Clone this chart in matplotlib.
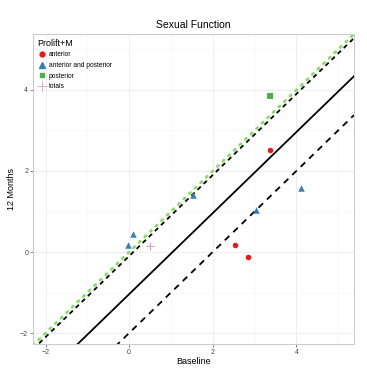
import numpy as np
import matplotlib
matplotlib.use("Agg")
import matplotlib.pyplot as plt
from matplotlib.lines import Line2D

# data
anterior_x = [3.37, 2.54, 2.85]
anterior_y = [2.52, 0.17, -0.12]
antpost_x = [1.53, 0.10, -0.02, 3.04, 4.11]
antpost_y = [1.41, 0.44, 0.17, 1.04, 1.58]
posterior_x = [3.37]
posterior_y = [3.85]
totals_x = [0.50]
totals_y = [0.15]

# reference lines: identity, mean difference and limits
mean_diff = -1.04
upper_lim = -0.10
lower_lim = -2.00

xlim = (-2.30, 5.38)
ylim = (-2.27, 5.38)

plt.rcParams['font.family'] = ['Liberation Sans', 'DejaVu Sans']

fig = plt.figure(figsize=(3.67, 3.70), dpi=100)
ax = fig.add_axes([0.0899, 0.0703, 0.8747, 0.8377])

xs = np.array(xlim)
ax.plot(xs, xs, linestyle=(0, (0.6, 2.2)), color='#88DD66', linewidth=2.0,
        dash_capstyle='round', zorder=2)
ax.plot(xs, xs + upper_lim, linestyle=(0, (2.5, 2.2)), color='black', linewidth=1.3, zorder=2)
ax.plot(xs, xs + mean_diff, linestyle='-', color='black', linewidth=1.3, zorder=2)
ax.plot(xs, xs + lower_lim, linestyle=(0, (3.5, 3.0)), color='black', linewidth=1.3, zorder=2)

ax.scatter(anterior_x, anterior_y, marker='o', s=16, color='#E41A1C', zorder=3, linewidths=0)
ax.scatter(antpost_x, antpost_y, marker='^', s=22, color='#377EB8', zorder=3, linewidths=0)
ax.scatter(posterior_x, posterior_y, marker='s', s=16, color='#4DAF4A', zorder=3, linewidths=0)
ax.scatter(totals_x, totals_y, marker='+', s=40, color='#C8A8C8', zorder=3, linewidths=0.8)

ax.set_xlim(xlim)
ax.set_ylim(ylim)
ax.set_xticks([-2, 0, 2, 4])
ax.set_yticks([-2, 0, 2, 4])
ax.set_xticks([-1, 1, 3, 5], minor=True)
ax.set_yticks([-1, 1, 3, 5], minor=True)
ax.grid(True, which='major', color='#EBEBEB', linewidth=0.6)
ax.grid(True, which='minor', color='#F5F5F5', linewidth=0.4)
ax.set_axisbelow(True)
for sp in ax.spines.values():
    sp.set_color('#CCCCCC')
    sp.set_linewidth(0.8)
ax.tick_params(which='major', length=2, width=0.5, color='#555555', labelsize=5,
               labelcolor='#444444', pad=1.5)
ax.tick_params(which='minor', length=0)

ax.set_title('Sexual Function', fontsize=7.5, pad=4)
ax.set_xlabel('Baseline', fontsize=6.5, labelpad=1)
ax.set_ylabel('12 Months', fontsize=6.5, labelpad=3)

handles = [
    Line2D([], [], marker='o', linestyle='none', color='#E41A1C', markersize=3.5),
    Line2D([], [], marker='^', linestyle='none', color='#377EB8', markersize=4),
    Line2D([], [], marker='s', linestyle='none', color='#4DAF4A', markersize=3.5),
    Line2D([], [], marker='+', linestyle='none', color='#C8A8C8', markersize=7, markeredgewidth=0.6),
]
labels = ['anterior', 'anterior and posterior', 'posterior', 'totals']
leg = ax.legend(handles, labels, title='Prolift+M', loc='upper left',
                bbox_to_anchor=(0.0, 1.0), frameon=False, fontsize=4.8,
                title_fontsize=6.5, handlelength=1.3, handletextpad=0.35,
                labelspacing=0.55, borderaxespad=0.3)
leg._legend_box.align = 'left'

fig.savefig('out.png', dpi=100)
